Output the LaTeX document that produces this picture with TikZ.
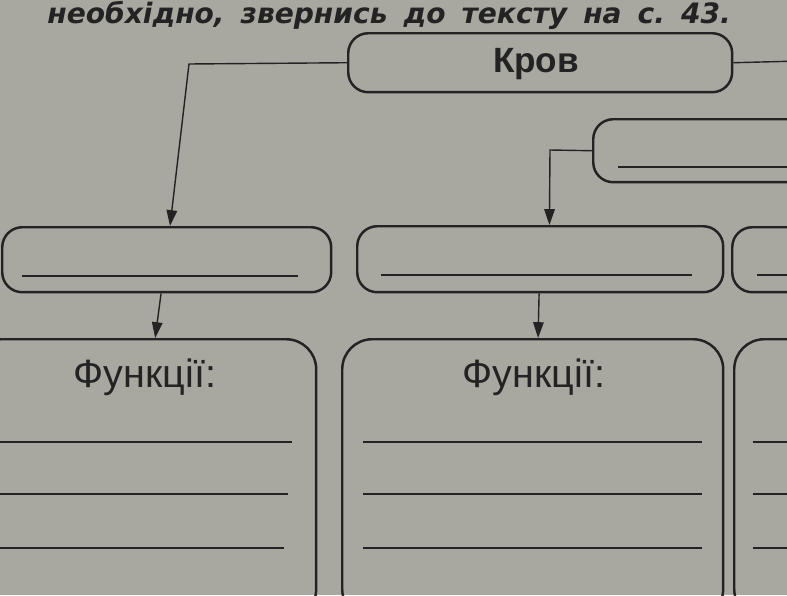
\documentclass[tikz,border=0pt]{standalone}
\usepackage{fontspec}
\setmainfont{Liberation Sans}
\newfontfamily\headfont{DejaVu Sans}
\usetikzlibrary{arrows.meta,calc}
\definecolor{paper}{RGB}{168,167,160}
\definecolor{ink}{RGB}{35,35,35}
\begin{document}
\begin{tikzpicture}[x=0.02cm,y=-0.02cm,
  box/.style={draw=ink,line width=1.4pt,rounded corners=0.4cm,rectangle,anchor=north west,inner sep=0pt},
  bigbox/.style={box,rounded corners=0.6cm},
  wline/.style={draw=ink,line width=0.9pt},
  conn/.style={draw=ink,line width=0.8pt},
  arr/.style={conn,-{Triangle[length=9pt,width=6pt]}},
  lbl/.style={text=ink,inner sep=0pt}]
\useasboundingbox (0,0) rectangle (787,595);
\fill[paper] (0,0) rectangle (787,595);
\clip (0,0) rectangle (787,595);

% heading
\node[lbl,anchor=base west,font=\headfont\fontsize{16}{18}\selectfont\bfseries\itshape] (head) at (47,23)
  {\frenchspacing\makebox[389pt][s]{необхідно, звернись до тексту на с. 43.}};

% boxes
\node[box,minimum width=7.68cm,minimum height=1.18cm] (krov) at (347,32) {};
\node[lbl,font=\fontsize{20}{22}\selectfont\bfseries] (krovt) at (536,64) {Кров};
\node[box,minimum width=5.2cm,minimum height=1.26cm] (src2) at (592,118) {};
\node[box,minimum width=6.58cm,minimum height=1.3cm] (mid1) at (1,226) {};
\node[box,minimum width=7.32cm,minimum height=1.32cm] (mid2) at (356,225) {};
\node[box,minimum width=6cm,minimum height=1.3cm] (mid3) at (731,226) {};
\node[bigbox,minimum width=6.9cm,minimum height=5.6cm] (fun1) at (-30,338) {};
\node[bigbox,minimum width=7.62cm,minimum height=5.6cm] (fun2) at (341,338) {};
\node[bigbox,minimum width=6cm,minimum height=5.6cm] (fun3) at (733,338) {};
\node[lbl,font=\fontsize{22.5}{25}\selectfont] (f1t) at (145,377) {Функції:};
\node[lbl,font=\fontsize{22.5}{25}\selectfont] (f2t) at (534,377) {Функції:};

% writing lines
\draw[wline] (618,167) -- (800,167);
\draw[wline] (22,276) -- (298,276);
\draw[wline] (381,275) -- (692,275);
\draw[wline] (757,275) -- (800,275);
\draw[wline] (0,442) -- (292,442);
\draw[wline] (0,494) -- (288,494);
\draw[wline] (0,548) -- (284,548);
\draw[wline] (363,442) -- (702,442);
\draw[wline] (363,494) -- (702,494);
\draw[wline] (363,548) -- (702,548);
\draw[wline] (753,442) -- (800,442);
\draw[wline] (753,494) -- (800,494);
\draw[wline] (753,548) -- (800,548);

% connectors
\coordinate (k1) at (189,64);
\coordinate (kr) at (800,61);
\coordinate (s1) at (550,150);
\draw[arr] (krov.west) -- (k1) -- ($(mid1.north west)!0.51!(mid1.north east)$);
\draw[conn] (krov.east) -- (kr);
\draw[arr] (src2.west) -- (s1) -- ($(mid2.north west)!0.525!(mid2.north east)$);
\draw[arr] ($(mid1.south west)!0.483!(mid1.south east)$) -- ($(fun1.north west)!0.533!(fun1.north east)$);
\draw[arr] ($(mid2.south west)!0.497!(mid2.south east)$) -- ($(fun2.north west)!0.514!(fun2.north east)$);
\end{tikzpicture}
\end{document}
